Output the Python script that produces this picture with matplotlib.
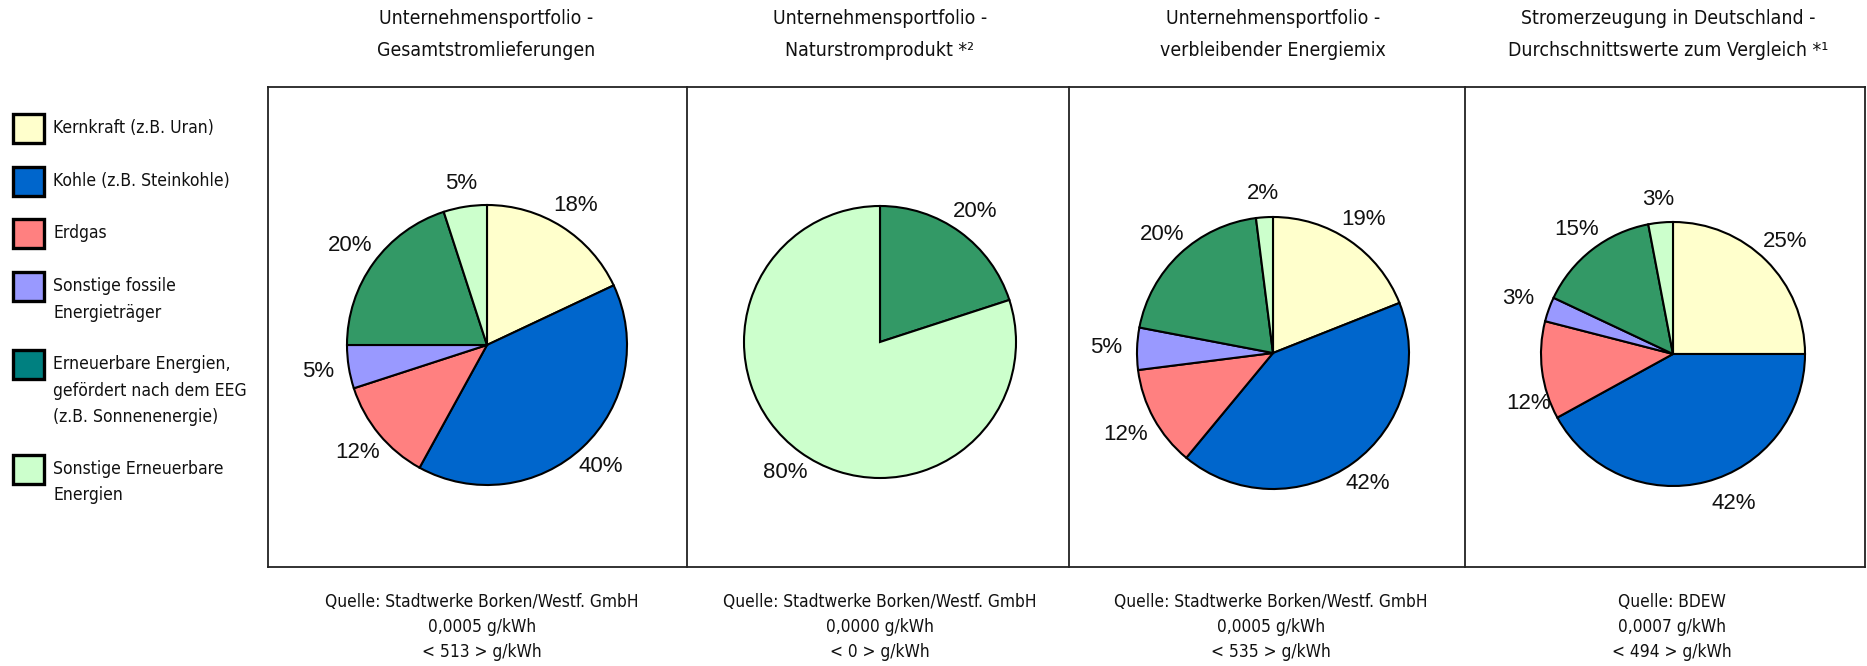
import numpy as np
import matplotlib
matplotlib.use("Agg")
import matplotlib.pyplot as plt
from matplotlib.patches import Rectangle
from matplotlib.lines import Line2D
from matplotlib import font_manager as fm

# ---------------- data ----------------
categories = [
    "Kernkraft (z.B. Uran)",
    "Kohle (z.B. Steinkohle)",
    "Erdgas",
    "Sonstige fossile\nEnergieträger",
    "Erneuerbare Energien,\ngefördert nach dem EEG\n(z.B. Sonnenenergie)",
    "Sonstige Erneuerbare\nEnergien",
]
gesamt = [18, 40, 12, 5, 20, 5]
naturstrom = [0, 0, 0, 0, 20, 80]
verbleibend = [19, 42, 12, 5, 20, 2]
deutschland = [25, 42, 12, 3, 15, 3]

titles = [
    "Unternehmensportfolio -\nGesamtstromlieferungen",
    "Unternehmensportfolio -\nNaturstromprodukt *²",
    "Unternehmensportfolio -\nverbleibender Energiemix",
    "Stromerzeugung in Deutschland -\nDurchschnittswerte zum Vergleich *¹",
]
sources = [
    "Quelle: Stadtwerke Borken/Westf. GmbH\n0,0005 g/kWh\n< 513 > g/kWh",
    "Quelle: Stadtwerke Borken/Westf. GmbH\n0,0000 g/kWh\n< 0 > g/kWh",
    "Quelle: Stadtwerke Borken/Westf. GmbH\n0,0005 g/kWh\n< 535 > g/kWh",
    "Quelle: BDEW\n0,0007 g/kWh\n< 494 > g/kWh",
]
series = [gesamt, naturstrom, verbleibend, deutschland]

pie_colors = ["#FFFFCC", "#0066CC", "#FF8080", "#9999FF", "#339966", "#CCFFCC"]
legend_colors = ["#FFFFCC", "#0066CC", "#FF8080", "#9999FF", "#008080", "#CCFFCC"]

# ---------------- layout (pixels) ----------------
W, H = 1867, 666
DPI = 100


def fx(x):
    return x / W


def fy(y):
    return 1 - y / H


# pick a condensed text face if one is installed
TXT_FONT = "DejaVu Sans"
TXT_STRETCH = "normal"
size_scale = 1.0
try:
    p = fm.findfont(fm.FontProperties(family="DejaVu Sans", stretch="condensed"),
                    fallback_to_default=False)
    if "Condensed" in p:
        TXT_STRETCH = "condensed"
        size_scale = 1.0 / 0.905
except Exception:
    pass

PCT_FONT = "Liberation Sans"
TXT_COLOR = "#111111"

fig = plt.figure(figsize=(W / DPI, H / DPI), dpi=DPI)
fig.patch.set_facecolor("white")

# panel box
box_left, box_right, box_top, box_bottom = 268, 1865, 87, 567
dividers = [687, 1069, 1465]
line_kw = dict(color="#222222", linewidth=1.3, transform=fig.transFigure)
fig.add_artist(Line2D([fx(box_left), fx(box_right)], [fy(box_top)] * 2, **line_kw))
fig.add_artist(Line2D([fx(box_left), fx(box_right)], [fy(box_bottom)] * 2, **line_kw))
for xv in [box_left] + dividers + [box_right]:
    fig.add_artist(Line2D([fx(xv)] * 2, [fy(box_top), fy(box_bottom)], **line_kw))

# pies
pie_centers = [(487, 345), (880, 342), (1273, 353), (1673, 354)]
pie_radii = [140, 136, 136, 132]
title_x = [486, 880, 1273, 1668]
source_x = [482, 880, 1271, 1672]

# label placement tweaks (pie index, wedge index) -> (angle deg, distance px)
label_tweaks = {(3, 1): (-68.0, 161.0), (3, 2): (-161.0, 153.0)}

LIM = 1.25
pie_axes = []
for (cx, cy), r, vals in zip(pie_centers, pie_radii, series):
    half = r * LIM
    ax = fig.add_axes([fx(cx - half), fy(cy + half), 2 * half / W, 2 * half / H])
    wedges, _ = ax.pie(vals, colors=pie_colors, startangle=90, counterclock=False,
                       radius=1.0,
                       wedgeprops=dict(edgecolor="black", linewidth=1.5))
    ax.set_xlim(-LIM, LIM)
    ax.set_ylim(-LIM, LIM)
    ax.set_aspect("equal")
    ax.axis("off")
    pie_axes.append((ax, wedges, vals, r))

# percentage labels, placed outside like Excel "outside end"
fig.canvas.draw()
renderer = fig.canvas.get_renderer()
GAP = 15
for pi, (ax, wedges, vals, r) in enumerate(pie_axes):
    for wi, (w, v) in enumerate(zip(wedges, vals)):
        if v == 0:
            continue
        t = ax.text(0, 0, f"{v}%", ha="center", va="center",
                    fontsize=16, family=PCT_FONT, color="#111111")
        if (pi, wi) in label_tweaks:
            ang, dpx = label_tweaks[(pi, wi)]
            th = np.deg2rad(ang)
            d = dpx / r
        else:
            th = np.deg2rad((w.theta1 + w.theta2) / 2.0)
            c, s = np.cos(th), np.sin(th)
            bb = t.get_window_extent(renderer)
            hw, hh = bb.width / 2.0, bb.height / 2.0 * 0.8
            ext = min(hw / abs(c) if abs(c) > 1e-6 else 1e9,
                      hh / abs(s) if abs(s) > 1e-6 else 1e9)
            d = (r + GAP + ext) / r
        t.set_position((np.cos(th) * d, np.sin(th) * d))

txt_kw = dict(family=TXT_FONT, stretch=TXT_STRETCH, color=TXT_COLOR)

# titles
for tx, ttl in zip(title_x, titles):
    for i, line in enumerate(ttl.split("\n")):
        fig.text(fx(tx), fy(18 + 33 * i), line, ha="center", va="center",
                 fontsize=12.6 * size_scale, **txt_kw)

# sources
for sx, src in zip(source_x, sources):
    for i, line in enumerate(src.split("\n")):
        fig.text(fx(sx), fy(602 + 25 * i), line, ha="center", va="center",
                 fontsize=11.2 * size_scale, **txt_kw)

# legend
leg_y = [128, 181, 233, 286, 364, 469]
sq_w, sq_h = 31, 29
for yc, lab, col in zip(leg_y, categories, legend_colors):
    fig.add_artist(Rectangle((fx(13), fy(yc + sq_h / 2)), sq_w / W, sq_h / H,
                             facecolor=col, edgecolor="black", linewidth=2.4,
                             transform=fig.transFigure))
    for i, line in enumerate(lab.split("\n")):
        fig.text(fx(53), fy(yc + 26.5 * i), line, ha="left", va="center",
                 fontsize=11.4 * size_scale, **txt_kw)

fig.savefig("out.png", dpi=DPI, facecolor="white")
